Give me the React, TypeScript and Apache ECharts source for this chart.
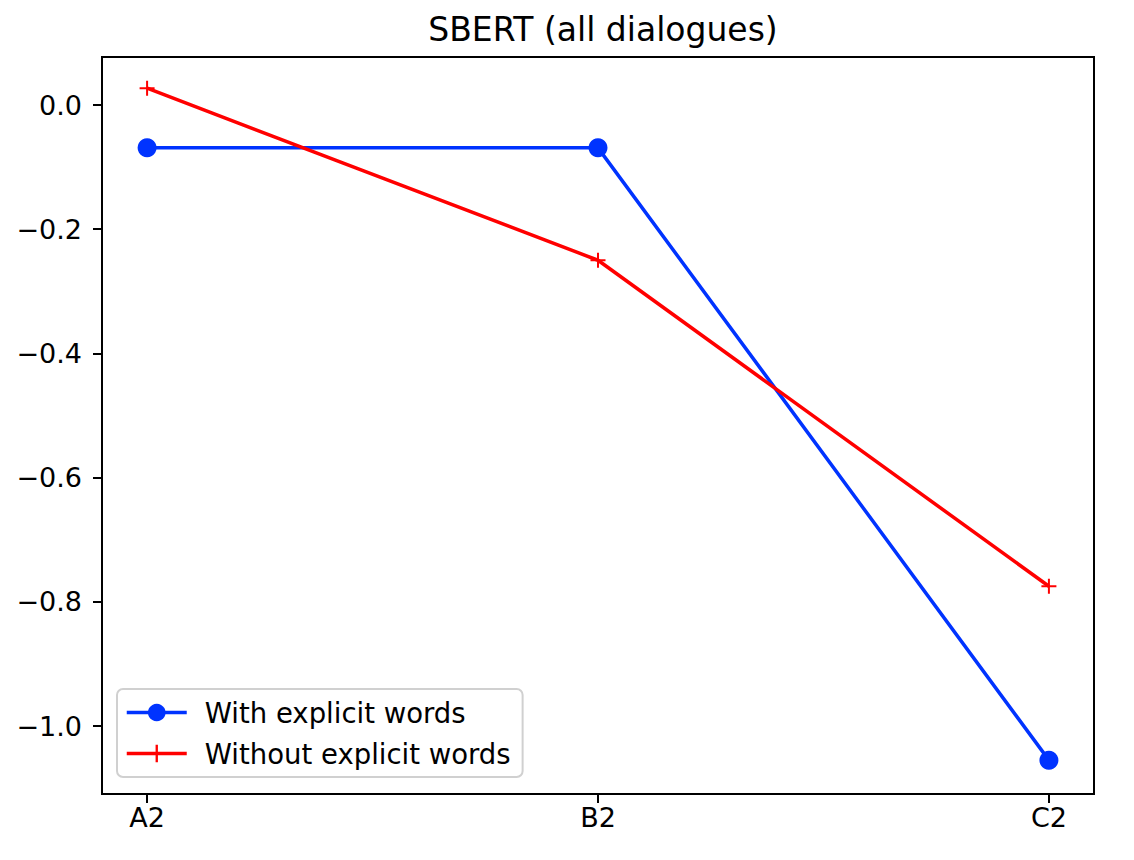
import React, { useEffect, useRef } from "react";
import * as echarts from "echarts";

const categories = ["A2", "B2", "C2"];
const withExplicit = [-0.069, -0.069, -1.055];
const withoutExplicit = [0.027, -0.25, -0.775];
const yTicks = [-1.0, -0.8, -0.6, -0.4, -0.2, 0.0];
const title = "SBERT (all dialogues)";
const seriesNames = ["With explicit words", "Without explicit words"];

const FONT = "DejaVu Sans";
const plusPath =
  "path://M0,6.5 L15,6.5 L15,8.5 L0,8.5 Z M6.5,0 L8.5,0 L8.5,15 L6.5,15 Z";

export default function App() {
  const ref = useRef<HTMLDivElement>(null);
  useEffect(() => {
    if (!ref.current) return;
    const chart = echarts.init(ref.current, undefined, { renderer: "svg" });
    const fmtY = (v: number) => {
      const s = Math.abs(v).toFixed(1);
      return v < -1e-9 ? "\u2212" + s : s;
    };
    chart.setOption({
      animation: false,
      backgroundColor: "#ffffff",
      title: {
        text: title,
        left: 598,
        textAlign: "center",
        top: 8,
        textStyle: {
          fontFamily: FONT,
          fontSize: 33,
          fontWeight: "normal",
          color: "#000",
        },
      },
      grid: {
        left: 102,
        top: 57,
        width: 992,
        height: 737,
        show: true,
        borderColor: "#000",
        borderWidth: 2,
        backgroundColor: "transparent",
      },
      legend: {
        orient: "vertical",
        left: 117,
        top: 689,
        padding: [8, 12, 8, 8],
        itemWidth: 60,
        itemHeight: 22,
        itemGap: 10,
        backgroundColor: "rgba(255,255,255,0.8)",
        borderColor: "#d0d0d0",
        borderWidth: 2,
        borderRadius: 6,
        lineStyle: { width: 3.5 },
        textStyle: {
          fontFamily: FONT,
          fontSize: 27.5,
          color: "#000",
          lineHeight: 31,
          padding: [0, 0, 0, 13],
        },
        data: seriesNames,
      },
      xAxis: {
        type: "value",
        min: -0.1,
        max: 2.1,
        splitLine: { show: false },
        axisLine: { show: true, onZero: false, lineStyle: { color: "#000", width: 2 } },
        axisTick: {
          show: true,
          length: 9,
          lineStyle: { color: "#000", width: 2 },
          customValues: [0, 1, 2],
        },
        axisLabel: {
          customValues: [0, 1, 2],
          margin: 10,
          fontFamily: FONT,
          fontSize: 27,
          color: "#000",
          formatter: (v: number) => categories[Math.round(v)] ?? "",
        },
      },
      yAxis: {
        type: "value",
        min: -1.1095,
        max: 0.0773,
        splitLine: { show: false },
        axisLine: { show: true, onZero: false, lineStyle: { color: "#000", width: 2 } },
        axisTick: {
          show: true,
          length: 9,
          lineStyle: { color: "#000", width: 2 },
          customValues: yTicks,
        },
        axisLabel: {
          customValues: yTicks,
          margin: 20,
          fontFamily: FONT,
          fontSize: 27,
          color: "#000",
          formatter: fmtY,
        },
      },
      series: [
        {
          name: seriesNames[0],
          type: "line",
          data: withExplicit.map((v, i) => [i, v]),
          symbol: "circle",
          symbolSize: 19,
          showAllSymbol: true,
          lineStyle: { color: "#0033ff", width: 3.5 },
          itemStyle: { color: "#0033ff" },
          z: 2,
        },
        {
          name: seriesNames[1],
          type: "line",
          data: withoutExplicit.map((v, i) => [i, v]),
          symbol: plusPath,
          symbolSize: 15,
          showAllSymbol: true,
          lineStyle: { color: "#ff0000", width: 3.5 },
          itemStyle: { color: "#ff0000" },
          z: 3,
        },
      ],
    });
    return () => chart.dispose();
  }, []);
  return <div ref={ref} style={{ width: 1134, height: 860, margin: -8 }} />;
}
